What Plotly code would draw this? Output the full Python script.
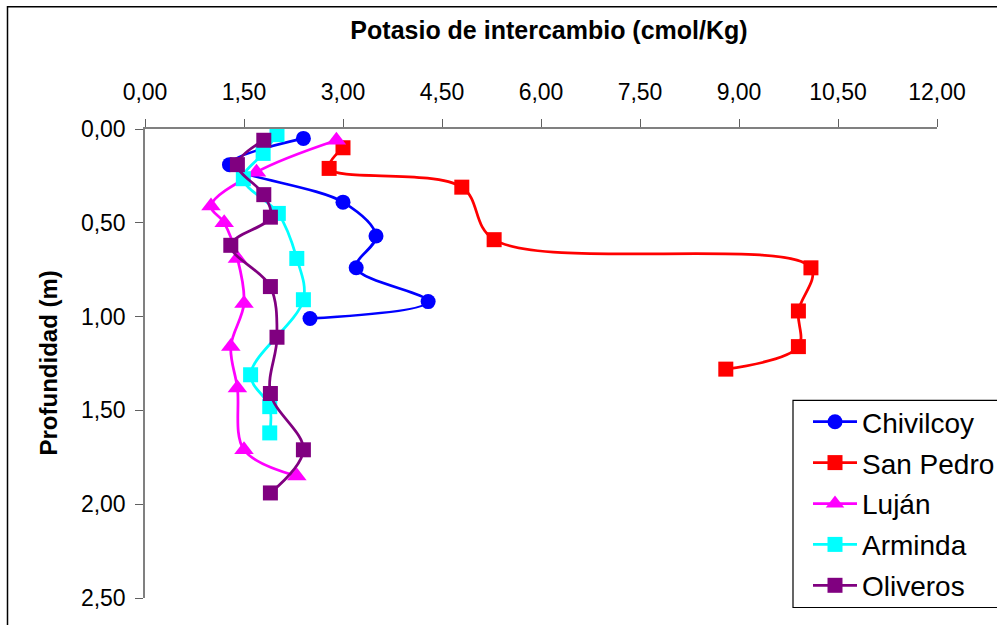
import plotly.graph_objects as go

# Exchangeable potassium (cmol/Kg) by depth (m) for each site
chivilcoy_k = [2.40, 1.28, 3.00, 3.50, 3.20, 4.29, 2.50]
chivilcoy_z = [0.05, 0.19, 0.39, 0.57, 0.74, 0.92, 1.01]

san_pedro_k = [3.00, 2.79, 4.80, 5.29, 10.09, 9.90, 9.90, 8.80]
san_pedro_z = [0.10, 0.21, 0.31, 0.59, 0.74, 0.97, 1.16, 1.28]

lujan_k = [2.90, 1.69, 1.00, 1.20, 1.40, 1.50, 1.30, 1.40, 1.50, 2.30]
lujan_z = [0.06, 0.23, 0.41, 0.50, 0.69, 0.93, 1.16, 1.38, 1.71, 1.85]

arminda_k = [2.00, 1.79, 1.49, 2.02, 2.30, 2.40, 1.60, 1.89, 1.89]
arminda_z = [0.03, 0.13, 0.265, 0.45, 0.69, 0.91, 1.31, 1.48, 1.62]

oliveros_k = [1.80, 1.40, 1.80, 1.90, 1.30, 1.90, 2.00, 1.90, 2.40, 1.90]
oliveros_z = [0.06, 0.19, 0.35, 0.47, 0.62, 0.84, 1.11, 1.41, 1.71, 1.94]

series = [
    ("Chivilcoy", chivilcoy_k, chivilcoy_z, "#0000FF", "circle", 15),
    ("San Pedro", san_pedro_k, san_pedro_z, "#FF0000", "square", 15),
    ("Luján", lujan_k, lujan_z, "#FF00FF", "triangle-up", 17),
    ("Arminda", arminda_k, arminda_z, "#00FFFF", "square", 15),
    ("Oliveros", oliveros_k, oliveros_z, "#800080", "square", 15),
]

W, H = 997, 625
L, R, T, B = 145, 60, 128.5, 26.5
pw, ph = W - L - R, H - T - B


def px_x(p):
    return (p - L) / pw


def px_y(p):
    return (H - B - p) / ph


fig = go.Figure()
for name, k, z, color, symbol, size in series:
    fig.add_trace(go.Scatter(
        x=k, y=z, name=name, legendgroup=name, mode="lines+markers",
        line=dict(color=color, width=2.75, shape="spline", smoothing=1),
        marker=dict(color=color, symbol=symbol, size=size),
        cliponaxis=False,
    ))

font = "Liberation Sans, Arial, sans-serif"
axis_common = dict(
    showgrid=False, zeroline=False, showline=True, linecolor="#808080",
    linewidth=1.5, ticks="outside", ticklen=8, tickcolor="#606060",
    tickwidth=1.2, tickfont=dict(family=font, size=23, color="black"),
    tickformat=".2f",
)

fig.update_layout(
    width=W, height=H,
    margin=dict(l=L, r=R, t=T, b=B, autoexpand=False),
    paper_bgcolor="white", plot_bgcolor="white",
    separators=",.",
    title=dict(
        text="<b>Potasio de intercambio (cmol/Kg)</b>",
        x=549 / W, xanchor="center", y=1 - 30 / H, yanchor="middle",
        font=dict(family=font, size=25, color="black"),
    ),
    xaxis=dict(range=[0, 12], dtick=1.5, tick0=0, side="top",
               ticklabelstandoff=10, **axis_common),
    yaxis=dict(range=[2.5, 0], dtick=0.5, tick0=0,
               ticklabelstandoff=5, **axis_common),
    showlegend=True,
    legend=dict(
        xref="container", yref="container",
        x=808 / W, y=1 - 397 / H, xanchor="left", yanchor="top",
        bgcolor="rgba(0,0,0,0)", borderwidth=0,
        font=dict(family=font, size=28, color="black"),
        itemwidth=44, tracegroupgap=1.5,
    ),
    annotations=[dict(
        text="<b>Profundidad (m)</b>", textangle=-90,
        xref="paper", yref="paper", x=px_x(48), y=0.5,
        xanchor="center", yanchor="middle", showarrow=False,
        font=dict(family=font, size=24, color="black"),
    )],
    shapes=[
        # chart-area frame
        dict(
            type="rect", xref="paper", yref="paper", layer="below",
            x0=px_x(7.5), x1=1.3, y0=-0.3, y1=px_y(6),
            line=dict(color="black", width=1.5), fillcolor="rgba(0,0,0,0)",
        ),
        # legend frame
        dict(
            type="rect", xref="paper", yref="paper", layer="above",
            x0=px_x(793), x1=px_x(1010), y0=px_y(608), y1=px_y(400.5),
            line=dict(color="black", width=1.2), fillcolor="white",
        ),
    ],
)

fig.write_html("out.html")
